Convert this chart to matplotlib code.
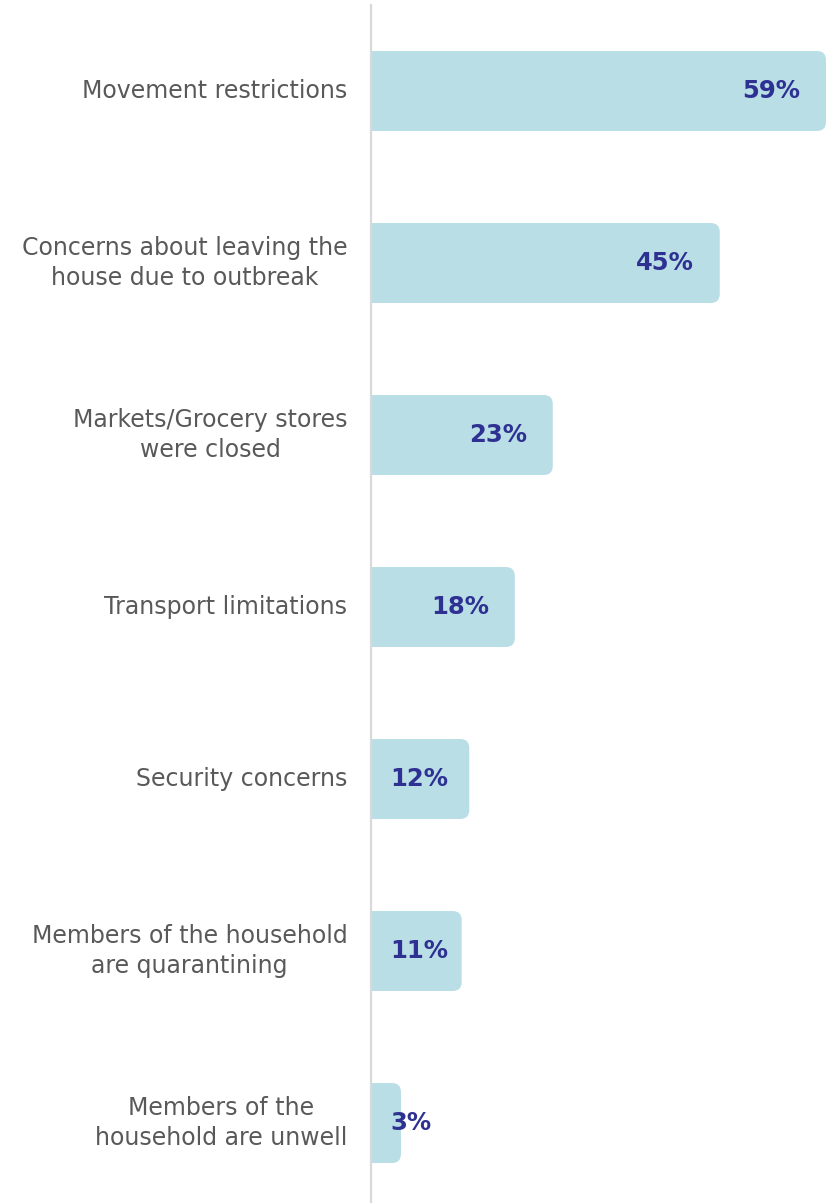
import matplotlib
matplotlib.use("Agg")
import matplotlib.pyplot as plt
from matplotlib.patches import FancyBboxPatch

# Data
categories = [
    "Movement restrictions",
    "Concerns about leaving the\nhouse due to outbreak",
    "Markets/Grocery stores\nwere closed",
    "Transport limitations",
    "Security concerns",
    "Members of the household\nare quarantining",
    "Members of the\nhousehold are unwell",
]
values = [59, 45, 23, 18, 12, 11, 3]

BAR_COLOR = "#B9DEE6"
LABEL_COLOR = "#2E3192"
TEXT_COLOR = "#595959"

plt.rcParams["font.family"] = ["DejaVu Sans"]

W, H = 826, 1203
X0, X1 = -0.95, 59.0
fig = plt.figure(figsize=(W / 100, H / 100), dpi=100)
ax = fig.add_axes([371 / W, 0, 1 - 371 / W, 1 - 5 / H])

ypos = list(range(len(categories)))
bars = ax.barh(ypos, values, height=0.465, color=BAR_COLOR)
ax.set_xlim(X0, X1)
ax.set_ylim(6.465, -0.5)

# rounded right corners (left side hidden under the axis)
px_x = (W - 371) / (X1 - X0)
px_y = (H - 5) / 6.965
r = 9 / px_x
for b in bars:
    b.set_visible(False)
    p = FancyBboxPatch((b.get_x() - 3 * r, b.get_y()), b.get_width() + 3 * r, b.get_height(),
                       boxstyle=f"round,pad=0,rounding_size={r}",
                       mutation_aspect=(px_x / px_y),
                       facecolor=BAR_COLOR, edgecolor="none", clip_on=True)
    ax.add_patch(p)

# value labels
xmin_lab = X0 + 19 / px_x
for y, v in zip(ypos, values):
    xr = v - 26 / px_x
    if xr - 58 / px_x < xmin_lab:
        ax.text(xmin_lab, y, f"{v}%", ha="left", va="center", fontsize=17.5,
                fontweight="bold", color=LABEL_COLOR)
    else:
        ax.text(xr, y, f"{v}%", ha="right", va="center", fontsize=17.5,
                fontweight="bold", color=LABEL_COLOR)

ax.set_yticks(ypos)
ax.set_yticklabels(categories, fontsize=17, color=TEXT_COLOR)
for t in ax.get_yticklabels():
    t.set_multialignment("center")
    t.set_linespacing(1.3)
    t.set_verticalalignment("center")
ax.tick_params(axis="y", length=0, pad=17)
ax.set_xticks([])
for s in ["top", "right", "bottom"]:
    ax.spines[s].set_visible(False)
ax.spines["left"].set_color("#D9D9D9")
ax.spines["left"].set_linewidth(1.6)
ax.spines["left"].set_zorder(5)

plt.savefig("out.png", dpi=100)
